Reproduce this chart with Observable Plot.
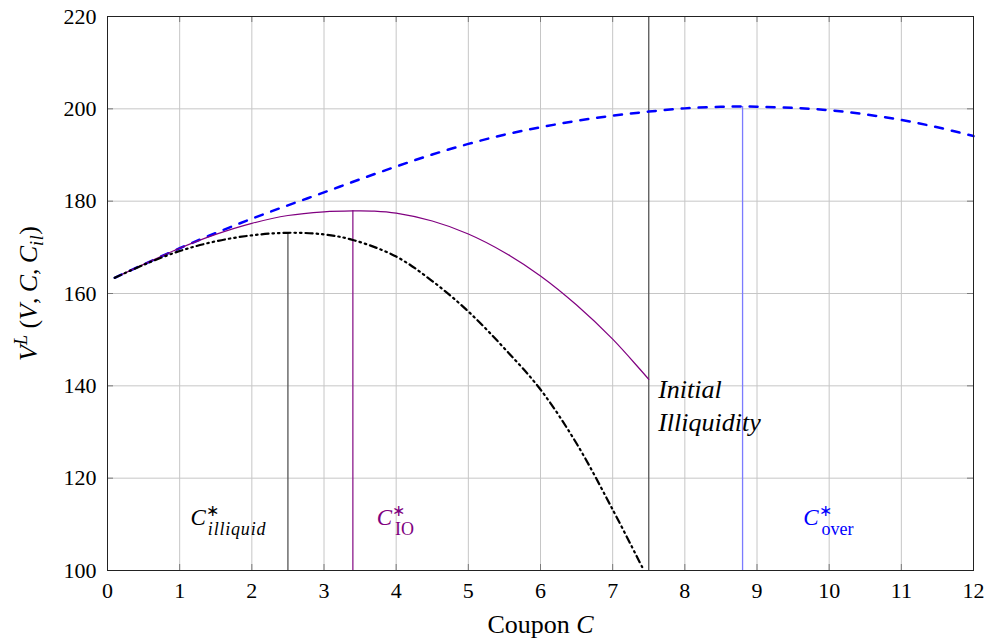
<!DOCTYPE html>
<html><head><meta charset="utf-8">
<script src="https://cdn.jsdelivr.net/npm/d3@7"></script>
<script src="https://cdn.jsdelivr.net/npm/@observablehq/plot@0.6"></script>
<style>body{margin:0;background:#fff}</style>
</head><body><div id="chart"></div>
<script>
// ---- data ----
const xTicks = [0,1,2,3,4,5,6,7,8,9,10,11,12];
const yTicks = [100,120,140,160,180,200,220];

// C*_over curve (blue dashed)
const overC = [0.1,0.5,1,1.5,2,2.5,3,3.5,4,4.5,5,5.5,6,6.5,7,7.5,8,8.5,8.8,9,9.5,10,10.5,11,11.5,12];
const overV = [163.4,166.3,169.8,173.1,176.2,179.1,181.9,184.75,187.5,190.1,192.4,194.4,196.0,197.4,198.5,199.4,200.1,200.45,200.5,200.45,200.2,199.7,198.8,197.6,196.0,194.1];

// C*_IO curve (purple solid)
const ioC = [0.1,0.5,1,1.5,2,2.5,3,3.4,3.7,4,4.5,5,5.5,6,6.5,7,7.5];
const ioV = [163.4,166.3,169.8,172.8,175.2,176.9,177.7,177.9,177.85,177.4,175.7,172.9,168.9,163.8,157.5,150.1,141.4];

// C*_illiquid curve (black dash-dot-dot)
const illC = [0.1,0.5,1,1.5,2,2.5,3,3.4,4,4.5,5,5.5,6,6.5,7,7.42];
const illV = [163.4,166.2,169.2,171.3,172.6,173.15,172.8,171.6,168.0,162.7,156.1,148.1,139.2,127.5,113.2,100.4];

// vertical marker lines
const markerC = [2.5, 3.4, 7.5, 8.8];
const markerTop = [173.15, 177.9, 220, 200.5];
const markerColor = ["#555555", "#8b1a8b", "#555555", "#7b7bff"];

// annotations
const labelText = ["C*illiquid", "C*IO", "C*over"];
const labelC = [1.15, 3.73, 9.64];
const labelV = [109.8, 109.8, 109.8];
const labelColor = ["#000000", "#800080", "#0000ff"];
const noteText = ["Initial\nIlliquidity"];
const noteC = [7.63];
const noteV = [130.3];
const xLabel = ["Coupon C"];
const yLabel = ["V^L(V, C, C_il)"];

// ---- build tables ----
const over = overC.map((c, i) => ({c, v: overV[i]}));
const io = ioC.map((c, i) => ({c, v: ioV[i]}));
const ill = illC.map((c, i) => ({c, v: illV[i]}));
const markers = markerC.map((c, i) => ({c, top: markerTop[i], color: markerColor[i]}));
const labels = labelText.map((t, i) => ({t, c: labelC[i], v: labelV[i], color: labelColor[i]}));
const notes = noteText.map((t, i) => ({t, c: noteC[i], v: noteV[i]}));

const W = 991, H = 644, mL = 107, mR = 18, mT = 16, mB = 74;
const innerW = W - mL - mR, innerH = H - mT - mB;

const chart = Plot.plot({
  width: W, height: H,
  marginLeft: mL, marginRight: mR, marginTop: mT, marginBottom: mB,
  style: {fontFamily: "'Liberation Serif', 'Times New Roman', serif", fontSize: "22px", background: "#fff", color: "#000"},
  x: {domain: [0, 12]},
  y: {domain: [100, 220]},
  marks: [
    Plot.gridX(xTicks, {stroke: "#c6c6c6", strokeOpacity: 1, strokeWidth: 1}),
    Plot.gridY(yTicks, {stroke: "#c6c6c6", strokeOpacity: 1, strokeWidth: 1}),
    Plot.tickX(xTicks, {x: d => d, stroke: "#7a7a7a", insetTop: innerH - 6}),
    Plot.tickX(xTicks, {x: d => d, stroke: "#7a7a7a", insetBottom: innerH - 6}),
    Plot.tickY(yTicks, {y: d => d, stroke: "#7a7a7a", insetRight: innerW - 6}),
    Plot.tickY(yTicks, {y: d => d, stroke: "#7a7a7a", insetLeft: innerW - 6}),
    Plot.ruleX(markers, {x: "c", y1: 100, y2: "top", stroke: "color", strokeWidth: 1.3}),
    Plot.line(over, {x: "c", y: "v", curve: "catmull-rom", stroke: "#0000ff", strokeWidth: 2.5, strokeDasharray: "8,9"}),
    Plot.line(io, {x: "c", y: "v", curve: "catmull-rom", stroke: "#800080", strokeWidth: 1.2}),
    Plot.line(ill, {x: "c", y: "v", curve: "catmull-rom", stroke: "#000000", strokeWidth: 2.2, strokeDasharray: "7,4,1.5,4,1.5,4"}),
    Plot.frame({stroke: "#222", strokeWidth: 1}),
    Plot.axisX(xTicks, {tickSize: 0, tickPadding: 12, fontSize: 22, label: null}),
    Plot.axisY(yTicks, {tickSize: 0, tickPadding: 11, fontSize: 22, label: null}),
    Plot.text(labels, {x: "c", y: "v", text: "t", fill: "color", textAnchor: "start", lineAnchor: "bottom", fontSize: 23}),
    Plot.text(notes, {x: "c", y: "v", text: "t", fill: "#000", textAnchor: "start", lineAnchor: "bottom", fontSize: 26, fontStyle: "italic", lineHeight: 1.27}),
    Plot.text(xLabel, {frameAnchor: "bottom", dy: 62, lineAnchor: "bottom", text: d => d, fontSize: 26, fill: "#000"}),
    Plot.text(yLabel, {frameAnchor: "left", dx: -79, rotate: -90, textAnchor: "start", lineAnchor: "middle", text: d => d, fontSize: 26, fill: "#000"})
  ]
});

document.getElementById("chart").appendChild(chart);

// ---- rich text (italics, sub/superscripts) ----
function rich(el, parts) {
  while (el.firstChild) el.removeChild(el.firstChild);
  for (const p of parts) {
    const ts = document.createElementNS("http://www.w3.org/2000/svg", "tspan");
    ts.textContent = p.t;
    if (p.i) ts.setAttribute("font-style", "italic");
    if (p.fs) ts.setAttribute("font-size", p.fs);
    if (p.dx) ts.setAttribute("dx", p.dx);
    if (p.dy) ts.setAttribute("dy", p.dy);
    if (p.ls) ts.setAttribute("letter-spacing", p.ls);
    el.appendChild(ts);
  }
}
const textGroups = chart.querySelectorAll('g[aria-label="text"]');
// order: 0 = C* labels, 1 = notes, 2 = x label, 3 = y label
const labelParts = [
  [{t: "C", i: 1}, {t: "\u2217", fs: 16, dy: -9}, {t: "illiquid", i: 1, fs: 18, dx: -11, dy: 19, ls: 0.8}],
  [{t: "C", i: 1}, {t: "\u2217", fs: 16, dy: -9}, {t: "IO", fs: 18, dx: -10, dy: 19}],
  [{t: "C", i: 1}, {t: "\u2217", fs: 16, dy: -9}, {t: "over", fs: 18, dx: -10, dy: 19}]
];
textGroups[0].querySelectorAll("text").forEach((el, i) => rich(el, labelParts[i]));
textGroups[2].querySelectorAll("text").forEach(el => rich(el, [{t: "Coupon\u00a0"}, {t: "C", i: 1}]));
textGroups[3].querySelectorAll("text").forEach(el => {
  rich(el, [
    {t: "V", i: 1}, {t: "L", i: 1, fs: 18, dy: -10}, {t: "\u00a0(", dy: 10},
    {t: "V", i: 1}, {t: ",\u2009"}, {t: "C", i: 1}, {t: ",\u2009"}, {t: "C", i: 1},
    {t: "il", i: 1, fs: 18, dy: 6, ls: 0.6}, {t: ")", dy: -6}
  ]);
  const len = el.getComputedTextLength();
  el.setAttribute("x", -len / 2);
});
</script>
</body></html>
